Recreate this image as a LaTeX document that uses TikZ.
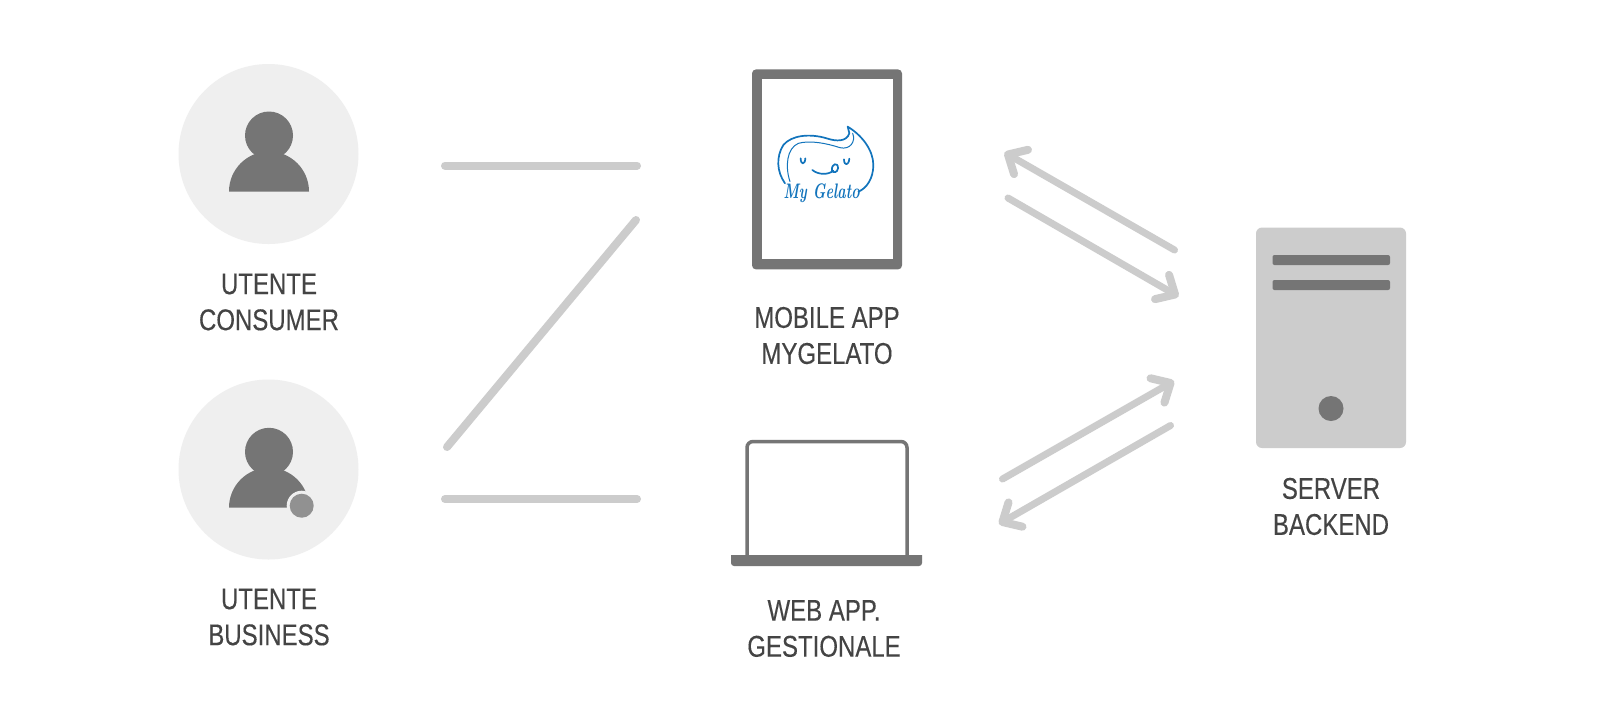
\documentclass[tikz,border=0pt]{standalone}
\usepackage{fontspec}
\setmainfont[FakeStretch=0.8,FakeBold=0.25]{Liberation Sans}
\newfontfamily\logofont[FakeStretch=0.68]{Latin Modern Roman}
\usetikzlibrary{arrows.meta}
\definecolor{dk}{HTML}{757575}
\definecolor{lt}{HTML}{CCCCCC}
\definecolor{disc}{HTML}{EFEFEF}
\definecolor{txt}{HTML}{444444}
\definecolor{logo}{HTML}{1274BC}
\tikzset{
  x=0.5pt,y=-0.5pt,
  label text/.style={text=txt,font=\fontsize{15}{18}\selectfont,align=center,inner sep=0pt},
  link/.style={draw=lt,line width=4pt,line cap=round},
  flow/.style={link,line width=3.5pt,-{Straight Barb[length=7.5pt,width=14pt,round,line width=4pt]}},
  disc/.style={circle,fill=disc,minimum size=90pt,inner sep=0pt},
  dark/.style={fill=dk,draw=none},
  logoline/.style={draw=logo,line width=0.85pt,line cap=round,line join=round,fill=none}
}
\begin{document}
\begin{tikzpicture}
\useasboundingbox (0,0) rectangle (1600,720);
\fill[white] (0,0) rectangle (1600,720);
% users
\node[disc] (c1) at (268.5,154) {};
\node[disc] (c2) at (268.5,469.5) {};
\fill[dark] (229,191.5) arc[start angle=180,end angle=360,x radius=40,y radius=40] -- cycle;
\fill[dark] (269,135.5) circle[radius=24];
\fill[dark] (229,507.7) arc[start angle=180,end angle=360,x radius=40,y radius=40] -- cycle;
\fill[dark] (269,451.8) circle[radius=24];
\fill[disc] (301.7,505.7) circle[radius=15];
\fill[color=black!43] (301.7,505.7) circle[radius=12];
\node[label text] (l1) at (269,302) {UTENTE\\CONSUMER};
\node[label text] (l2) at (269,617) {UTENTE\\BUSINESS};
% tablet
\fill[dk,rounded corners=2pt] (752,69.4) rectangle (902,269.4);
\fill[white] (762,79) rectangle (893,259);
\begin{scope}[shift={(730,100)},scale=1/3]
\draw[logoline] (165,250) .. controls (140,215) and (138,170) .. (160,135) .. controls (185,105) and (240,100) .. (290,115) .. controls (320,125) and (350,125) .. (358,100) -- (353,80) .. controls (395,105) and (430,150) .. (430,195) .. controls (430,235) and (410,265) .. (385,275);
\draw[logoline,line width=0.5pt] (368,100) .. controls (378,125) and (360,150) .. (330,143) .. controls (290,130) and (240,120) .. (205,130) .. controls (170,145) and (165,200) .. (180,245);
\draw[logoline] (212,175) .. controls (212,195) and (225,195) .. (226,175);
\draw[logoline] (342,178) .. controls (342,198) and (356,198) .. (358,176);
\draw[logoline] (247,210) .. controls (265,225) and (295,225) .. (310,212);
\draw[logoline] (306,212) .. controls (303,190) and (325,185) .. (324,205) .. controls (322,218) and (310,220) .. (306,212);
\node[text=logo,font=\logofont\itshape\bfseries\fontsize{10.5}{11}\selectfont,inner sep=0pt] (logotext) at (275,281) {My Gelato};
\end{scope}
\node[label text] (l3) at (827,335.5) {MOBILE APP\\MYGELATO};
% laptop
\draw[dk,line width=1.75pt,rounded corners=3pt] (747,557) -- (747,441.5) -- (907,441.5) -- (907,557);
\fill[dk] (731,555) -- (922,555) [rounded corners=1.5pt] -- (922,566) -- (731,566) [sharp corners] -- cycle;
\node[label text] (l4) at (824,628.5) {WEB APP.\\GESTIONALE};
% server
\fill[lt,rounded corners=3pt] (1256,227.5) rectangle (1406,448);
\fill[dk,rounded corners=1pt] (1272.5,255) rectangle (1390,265);
\fill[dk,rounded corners=1pt] (1272.5,280) rectangle (1390,290);
\fill[dk] (1331,408.5) circle[radius=12.5];
\node[label text] (l5) at (1331,506.5) {SERVER\\BACKEND};
% connectors
\coordinate (a1) at (445,165.5); \coordinate (a2) at (637,165.5);
\coordinate (b1) at (447,447);   \coordinate (b2) at (636,220);
\coordinate (d1) at (445,499);   \coordinate (d2) at (637,499);
\draw[link] (a1) -- (a2);
\draw[link] (b1) -- (b2);
\draw[link] (d1) -- (d2);
\coordinate (e1) at (1174.5,250); \coordinate (e2) at (1004.5,152.5);
\coordinate (f1) at (1008,198);   \coordinate (f2) at (1178.5,296.5);
\coordinate (g1) at (1002.5,479); \coordinate (g2) at (1174,381);
\coordinate (h1) at (1170.5,425.5); \coordinate (h2) at (999,524);
\draw[flow] (e1) -- (e2);
\draw[flow] (f1) -- (f2);
\draw[flow] (g1) -- (g2);
\draw[flow] (h1) -- (h2);
\end{tikzpicture}
\end{document}
